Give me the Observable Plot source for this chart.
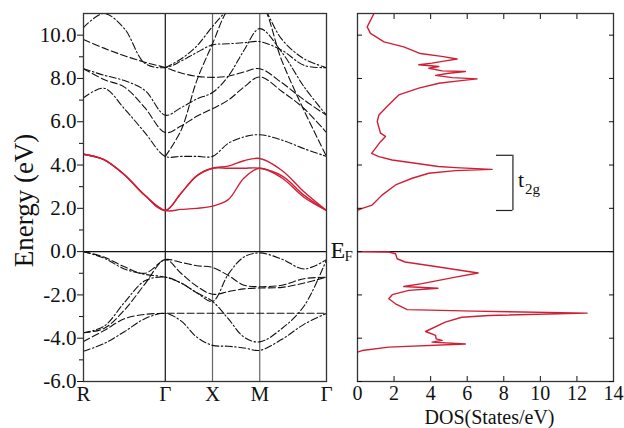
<!DOCTYPE html>
<html><head><meta charset="utf-8">
<script src="https://cdn.jsdelivr.net/npm/d3@7"></script>
<script src="https://cdn.jsdelivr.net/npm/@observablehq/plot@0.6"></script>
<style>
html,body{margin:0;padding:0;background:#fff;}
#wrap{position:relative;width:624px;height:428px;overflow:hidden;}
#wrap svg{position:absolute;top:0;}
</style></head><body><div id="wrap"></div>
<script>
// k-path sample points (R, 3 pts, Γ, 2 pts, X, 2 pts, M, 2 pts, Γ)
const kPath = [0, 0.433, 0.866, 1.299, 1.732, 2.065, 2.399, 2.732, 3.065, 3.399, 3.732, 4.203, 4.675, 5.146];
const symK = [0, 1.732, 2.732, 3.732, 5.146];
const symLabels = ["R", "Γ", "X", "M", "Γ"];
const yMajor = [-6, -4, -2, 0, 2, 4, 6, 8, 10];
const yMinor = [-5, -3, -1, 1, 3, 5, 7, 9];
const dosTicks = [0, 2, 4, 6, 8, 10, 12, 14];

// t2g (red) bands
const red1 = [4.5, 4.25, 3.55, 2.6, 1.9, 2.7, 3.5, 3.85, 3.95, 4.2, 4.3, 3.75, 2.75, 1.9];
const red2 = [4.5, 4.25, 3.55, 2.6, 1.9, 2.7, 3.5, 3.85, 3.85, 3.85, 3.85, 3.5, 2.6, 1.9];
const red3 = [4.5, 4.25, 3.55, 2.6, 1.9, 1.95, 2.0, 2.1, 2.4, 3.4, 3.85, 3.4, 2.5, 1.9];

// upper conduction bands (black)
const cb1 = [7.1, 7.55, 6.6, 5.5, 4.4, 4.4, 4.4, 4.4, 5.0, 5.3, 5.4, 5.15, 4.75, 4.4];
const cb2 = [8.45, 7.95, 7.6, 6.65, 5.5, 5.8, 6.25, 6.6, 7.0, 7.6, 8.07, 7.4, 6.6, 5.5];
const cb3 = [8.45, 8.15, 7.9, 7.45, 6.3, 6.65, 7.05, 7.35, 8.1, 9.3, 10.3, 9.2, 7.6, 6.3];
const cb4 = [9.8, 9.4, 9.05, 8.75, 8.5, 8.25, 8.1, 8.05, 8.1, 8.3, 8.45, 7.8, 7.0, 6.3];
const cb5 = [10.35, 11.0, 10.3, 8.7, 8.5, 8.8, 9.2, 9.55, 9.6, 9.65, 9.7, 9.3, 8.6, 8.5];
const cb6 = [null, null, null, null, 4.4, 5.6, 7.9, 9.6, 11.2, 11.8, 11.6, 8.8, 6.5, 4.4];
const cb7 = [null, null, null, null, 8.5, 8.9, 9.5, 10.4, 11.2, 11.8, 11.5, 9.8, 8.9, 8.5];

// valence bands (black)
const vb1 = [0, -0.25, -0.7, -1.0, -0.37, -0.5, -0.65, -0.73, -1.1, -1.55, -1.62, -1.55, -1.25, -1.18];
const vb2 = [0, -0.3, -0.8, -1.05, -1.18, -1.45, -1.9, -2.3, -3.1, -3.95, -4.17, -3.55, -2.5, -0.37];
const vb3 = [-3.75, -3.55, -2.7, -1.5, -0.37, -1.0, -1.6, -1.97, -1.85, -1.72, -1.68, -1.65, -1.45, -1.18];
const vb4 = [-3.75, -3.45, -2.35, -1.35, -1.18, -1.45, -1.9, -2.3, -1.05, -0.25, -0.06, -0.35, -0.8, -0.37];
const vb5 = [-4.15, -3.65, -3.1, -2.9, -2.85, -2.85, -2.85, -2.85, -2.85, -2.85, -2.85, -2.85, -2.85, -2.85];
const vb6 = [-4.6, -4.25, -3.7, -3.1, -2.85, -3.2, -3.95, -4.33, -4.37, -4.45, -4.56, -4.05, -3.35, -2.85];

// DOS (States/eV) vs energy (eV)
const dosUpE = [1.91, 2.0, 2.15, 2.61, 3.08, 3.39, 3.62, 3.74, 3.80, 3.88, 3.93, 4.08, 4.23, 4.39, 4.54, 4.77, 5.08, 5.32, 5.47, 6.01, 6.31, 6.78, 7.24, 7.55, 7.78, 7.89, 7.98, 8.04, 8.14, 8.24, 8.32, 8.35, 8.47, 8.55, 8.63, 8.71, 8.81, 8.9, 9.02, 9.15, 9.46, 9.69, 10.08, 10.38, 11.0];
const dosUpV = [0, 0.26, 0.8, 1.34, 2.08, 2.99, 3.9, 5.36, 7.36, 5.36, 4.42, 3.17, 1.9, 1.17, 0.77, 0.98, 1.26, 1.53, 1.26, 1.08, 1.17, 1.71, 2.26, 3.35, 4.45, 5.54, 6.54, 5.18, 4.27, 5.0, 5.9, 4.63, 3.9, 4.45, 3.35, 4.08, 4.81, 5.45, 4.6, 3.44, 2.53, 1.45, 0.71, 0.53, 0.9];
const dosLoE = [-4.64, -4.57, -4.41, -4.27, -4.18, -4.10, -4.03, -3.87, -3.69, -3.26, -3.03, -2.95, -2.84, -2.75, -2.68, -2.41, -2.18, -1.99, -1.79, -1.69, -1.61, -1.48, -1.18, -0.99, -0.87, -0.71, -0.48, -0.33, -0.10, -0.02, 0.0];
const dosLoV = [0, 0.25, 1.71, 5.9, 4.08, 4.63, 4.3, 4.27, 3.72, 4.8, 5.7, 7.2, 12.56, 6.36, 2.72, 2.08, 1.71, 1.9, 2.81, 4.4, 2.53, 3.53, 5.36, 6.6, 5.7, 4.45, 2.6, 2.17, 2.08, 1.71, 0];

// t2g bracket annotation (DOS x, energy range)
const t2gDos = [7.6, 8.5];
const t2gE = [1.9, 4.45];

const RED = "#d01f35";
const FONT = "Liberation Serif";
const toPts = b => kPath.map((k, i) => ({k, E: b[i]}));
const dashA = "7,2.5,1.5,2.5";
const dashB = "7,3";

const redMarks = [red1, red2, red3].map(b =>
  Plot.line(toPts(b), {x: "k", y: "E", stroke: RED, strokeWidth: 1.4, curve: "catmull-rom", clip: true}));
const blackMarks = [cb1, cb2, cb3, cb4, cb5, cb6, cb7, vb1, vb2, vb3, vb4, vb5, vb6].map((b, i) =>
  Plot.line(toPts(b), {x: "k", y: "E", stroke: "#111", strokeWidth: 1.1, strokeDasharray: i % 2 ? dashB : dashA, curve: "catmull-rom", clip: true}));

const left = Plot.plot({
  width: 356, height: 428,
  marginLeft: 83, marginRight: 30, marginTop: 13, marginBottom: 47,
  style: {fontFamily: FONT, fontSize: "21px", background: "transparent", overflow: "visible", color: "#111"},
  x: {domain: [0, 5.146]},
  y: {domain: [-6, 11.0]},
  marks: [
    Plot.ruleX([symK[1]], {stroke: "#111", strokeWidth: 1.2}),
    Plot.ruleX([symK[2], symK[3]], {stroke: "#666", strokeWidth: 1.2}),
    Plot.ruleY([0], {stroke: "#111", strokeWidth: 1.2}),
    ...blackMarks,
    ...redMarks,
    Plot.frame({stroke: "#333", strokeWidth: 1.3}),
    Plot.axisY({ticks: yMajor, tickFormat: d => d.toFixed(1), tickSize: 6, tickPadding: 1, label: null, fontSize: 21}),
    Plot.axisY({ticks: yMinor, tickSize: 4, text: null, label: null}),
    Plot.axisX({ticks: symK, tickFormat: d => symLabels[symK.indexOf(d)], tickSize: 0, tickPadding: 5, label: null, fontSize: 21}),
    Plot.text(["Energy (eV)"], {text: d => d, frameAnchor: "left", rotate: -90, dx: -59, dy: 3, fontSize: 27, lineAnchor: "middle", textAnchor: "middle"}),
    Plot.text([{k: symK[4], E: 0}], {x: "k", y: "E", text: () => "E", dx: 4, dy: 6, fontSize: 24, textAnchor: "start", lineAnchor: "bottom"}),
    Plot.text([{k: symK[4], E: 0}], {x: "k", y: "E", text: () => "F", dx: 18, dy: 9, fontSize: 15, textAnchor: "start", lineAnchor: "bottom"})
  ]
});

const right = Plot.plot({
  width: 284, height: 428,
  marginLeft: 17, marginRight: 11, marginTop: 13, marginBottom: 47,
  style: {fontFamily: FONT, fontSize: "20px", background: "transparent", overflow: "visible", color: "#111"},
  x: {domain: [0, 14]},
  y: {domain: [-6, 11.0]},
  marks: [
    Plot.ruleY([0], {stroke: "#111", strokeWidth: 1.2}),
    Plot.line(dosUpE.map((E, i) => ({E, v: dosUpV[i]})), {x: "v", y: "E", stroke: RED, strokeWidth: 1.4, clip: true}),
    Plot.line(dosLoE.map((E, i) => ({E, v: dosLoV[i]})), {x: "v", y: "E", stroke: RED, strokeWidth: 1.4, clip: true}),
    Plot.ruleX([t2gDos[1]], {y1: t2gE[0], y2: t2gE[1], stroke: "#222", strokeWidth: 1.2}),
    Plot.ruleY(t2gE, {x1: t2gDos[0], x2: t2gDos[1], stroke: "#222", strokeWidth: 1.2}),
    Plot.text([{x: t2gDos[1], y: (t2gE[0] + t2gE[1]) / 2}], {x: "x", y: "y", text: () => "t", dx: 5, dy: 4, fontSize: 22, textAnchor: "start", lineAnchor: "bottom"}),
    Plot.text([{x: t2gDos[1], y: (t2gE[0] + t2gE[1]) / 2}], {x: "x", y: "y", text: () => "2g", dx: 12, dy: 11, fontSize: 15, textAnchor: "start", lineAnchor: "bottom"}),
    Plot.frame({stroke: "#333", strokeWidth: 1.3}),
    Plot.axisX({anchor: "bottom", ticks: dosTicks, tickSize: 0, tickPadding: 4, label: null, fontSize: 20}),
    Plot.axisX({anchor: "top", ticks: dosTicks.slice(1, -1), tickSize: -5, text: null, label: null}),
    Plot.axisX({anchor: "bottom", ticks: dosTicks.slice(1, -1), tickSize: -5, text: null, label: null}),
    Plot.axisY({anchor: "left", ticks: yMajor, tickSize: -5, text: null, label: null}),
    Plot.axisY({anchor: "right", ticks: yMajor, tickSize: -5, text: null, label: null}),
    Plot.text(["DOS(States/eV)"], {text: d => d, frameAnchor: "bottom", dx: 4, dy: 42.5, fontSize: 20, lineAnchor: "bottom"})
  ]
});

const wrap = document.getElementById("wrap");
left.style.left = "0px";
right.style.left = "340px";
wrap.appendChild(left);
wrap.appendChild(right);
</script></body></html>
